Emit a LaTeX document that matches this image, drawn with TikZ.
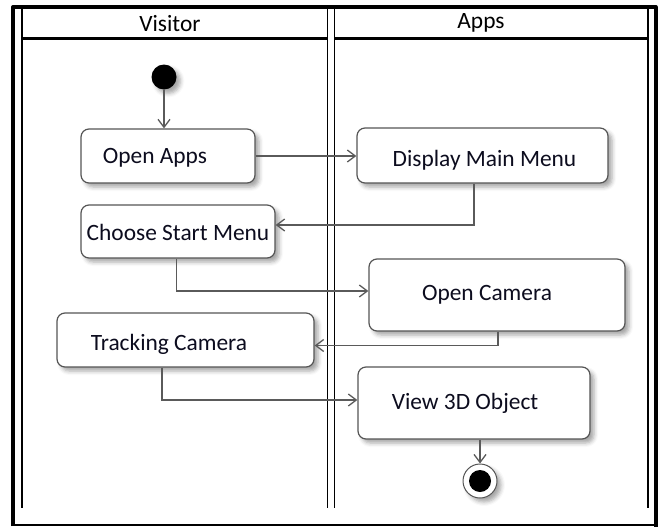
\documentclass[tikz,border=0pt]{standalone}
\usepackage{fontspec}
\setmainfont{Carlito}
\usetikzlibrary{arrows.meta,shadows.blur}
\definecolor{boxline}{RGB}{85,85,85}
\definecolor{flowc}{RGB}{90,90,90}
\definecolor{textc}{RGB}{12,12,30}
\begin{document}
\begin{tikzpicture}[x=1pt,y=-1pt,
  softshadow/.style={blur shadow={shadow xshift=4pt, shadow yshift=-4pt,
      shadow blur radius=4pt, shadow opacity=35}},
  act/.style 2 args={draw=boxline, line width=1.2pt, rounded corners=8pt,
      fill=white, minimum width=#1, minimum height=#2, inner sep=0pt, softshadow},
  txt/.style={font=\fontsize{23.4}{28}\selectfont, text=textc,
      text height=15pt, text depth=0pt, inner sep=0pt},
  hdr/.style={txt, text=black},
  lane/.style={line width=1.8pt},
  flow/.style={draw=flowc, line width=1.3pt,
      -{Straight Barb[length=8pt,width=12pt]}},
  startc/.style={circle, fill=black, minimum size=25pt, inner sep=0pt, softshadow},
  endring/.style={circle, draw=boxline, line width=1pt, fill=white,
      minimum size=34pt, inner sep=0pt, softshadow}
]
\useasboundingbox (0,0) rectangle (660,527);

% outer frame
\draw[line width=4pt, line join=round] (13,526) -- (13,7) -- (655.5,7) -- (655.5,527);
\draw[line width=1.2pt] (13,525) -- (655.5,525);

% swimlanes
\draw[lane] (22,9) -- (22,508);
\draw[lane] (327.5,9) -- (327.5,508);
\draw[lane] (334.5,9) -- (334.5,508);
\draw[lane] (648,9) -- (648,508);
\draw[line width=2.5pt] (22,38.5) -- (327.5,38.5);
\draw[line width=2.5pt] (334.5,38.5) -- (648,38.5);
\node[hdr] (visitor) at (170,24) {Visitor};
\node[hdr] (apps) at (481,21) {Apps};

% activities
\node[startc] (start) at (164,77) {};
\node[act={174}{54}, label={[txt,xshift=-13pt]center:Open Apps}] (oa) at (168,156) {};
\node[act={251}{55}, label={[txt,xshift=2pt,yshift=-3pt]center:Display Main Menu}] (dmm) at (482.5,155.5) {};
\node[act={194}{53}, label={[txt,yshift=-1.5pt]center:Choose Start Menu}] (csm) at (178,231.5) {};
\node[act={256}{72}, label={[txt,xshift=-10pt,yshift=2pt]center:Open Camera}] (oc) at (497,295) {};
\node[act={257}{54}, label={[txt,xshift=-16.5pt,yshift=-3pt]center:Tracking Camera}] (tc) at (185.5,340) {};
\node[act={232}{72}, label={[txt,xshift=-9pt,yshift=1pt]center:View 3D Object}] (v3d) at (474,403) {};
\node[endring] (end) at (480,481) {};
\fill (end.center) circle[radius=11pt];

% bends of the flows
\coordinate (k2) at (474,225);
\coordinate (k3) at (176.5,291);
\coordinate (k4) at (498,345.5);
\coordinate (k5) at (162,400);

% control flow
\draw[flow] (start) -- (start |- oa.north);
\draw[flow] (oa.east) -- (oa.east -| dmm.west);
\draw[flow] (dmm.south -| k2) |- (csm.east |- k2);
\draw[flow] (csm.south -| k3) |- (oc.west |- k3);
\draw[flow] (oc.south -| k4) |- (tc.east |- k4);
\draw[flow] (tc.south -| k5) |- (v3d.west |- k5);
\draw[flow] (v3d.south -| end) -- (end.north);
\end{tikzpicture}
\end{document}
